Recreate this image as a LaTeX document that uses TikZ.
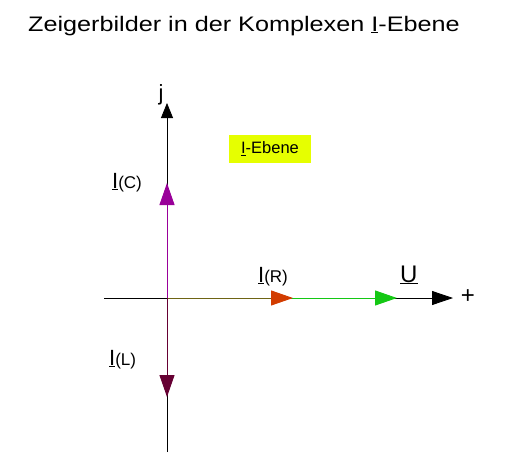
\documentclass[tikz,border=0pt]{standalone}
\usepackage{fontspec}
\setmainfont{Liberation Sans}
\newfontfamily\titelfont[FakeStretch=1.2]{Liberation Sans}
\usetikzlibrary{arrows.meta}
\definecolor{lila}{RGB}{153,0,153}
\definecolor{weinrot}{RGB}{102,0,51}
\definecolor{orangerot}{RGB}{210,60,0}
\definecolor{oliv}{RGB}{110,100,20}
\definecolor{gruen}{RGB}{20,200,20}
\definecolor{gelb}{RGB}{230,255,0}
\tikzset{
  achse/.style={draw=black,line width=0.8pt},
  zeiger/.style={line width=1pt,-{Triangle[length=22pt,width=15pt]}},
  gross/.style={font=\fontsize{22}{22}\selectfont,inner sep=0pt},
  riesig/.style={font=\fontsize{24}{24}\selectfont,inner sep=0pt},
  klein/.style={font=\fontsize{16.5}{16.5}\selectfont},
}
\newcommand{\zlabel}[2]{\underline{#1}{\fontsize{17}{17}\selectfont #2}}

\begin{document}
\begin{tikzpicture}[x=1pt,y=-1pt]
\useasboundingbox (0,0) rectangle (515,474);
\node[anchor=base west,font=\titelfont\fontsize{21}{21}\selectfont,inner sep=0pt] (titel) at (28,31) {Zeigerbilder in der Komplexen \underline{I}-Ebene};
\coordinate (O) at (167,298);
\coordinate (unten) at (167,452);
\coordinate (links) at (104,298);
\coordinate (jspitze) at (167,103);
\coordinate (plusspitze) at (453,298);
\draw[achse,-{Triangle[length=15pt,width=12pt]}] (unten) -- (jspitze);
\draw[achse,-{Triangle[length=21pt,width=14pt]}] (links) -- (plusspitze);
\node[gross,anchor=base] (j) at (161,100) {j};
\node[riesig,anchor=base] (plus) at (468,303) {+};
% Zeiger
\draw[zeiger,gruen] (O) -- (397,298) coordinate (Uspitze);
\draw[zeiger,oliv,-{Triangle[length=22pt,width=15pt,color=orangerot]}] (O) -- (293,298) coordinate (IR);
\draw[zeiger,lila] (O) -- (167,183) coordinate (IC);
\draw[zeiger,weinrot] (O) -- (167,397) coordinate (IL);
\node[riesig,anchor=base west] (U) at (400,282) {\underline{U}};
\node[gross,anchor=base west] (labelR) at (258,282) {\zlabel{I}{(R)}};
\node[gross,anchor=base west] (labelC) at (112,188) {\zlabel{I}{(C)}};
\node[gross,anchor=base west] (labelL) at (109,365) {\zlabel{I}{(L)}};
\node[fill=gelb,minimum width=82pt,minimum height=28pt,inner sep=0pt,klein] (ebene) at (270,149) {\underline{I}-Ebene};
\end{tikzpicture}
\end{document}
